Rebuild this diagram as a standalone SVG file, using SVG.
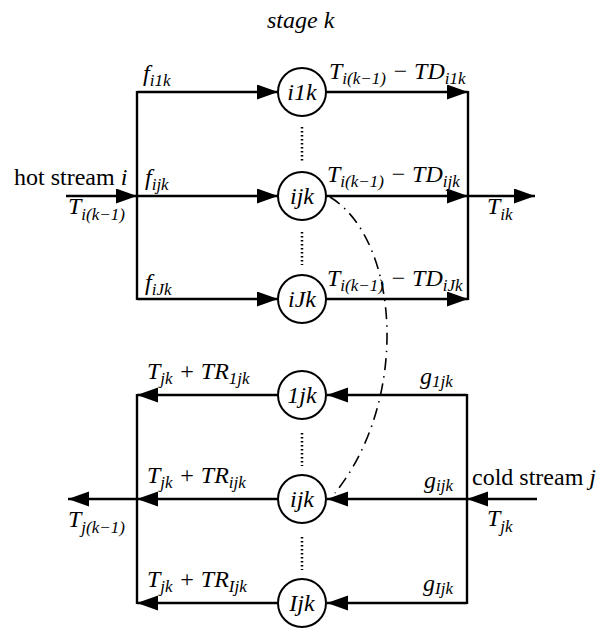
<svg xmlns="http://www.w3.org/2000/svg" width="599" height="630" viewBox="0 0 599 630">
<style>
  .ln{stroke:#000;stroke-width:2.4;fill:none}
  .arr{stroke:#000;stroke-width:2.4;fill:none;marker-end:url(#ah)}
  .node{fill:#fff;stroke:#000;stroke-width:2}
  .dot{stroke:#000;stroke-width:2.5;stroke-dasharray:1.5 2.5;fill:none}
  .dd{stroke:#000;stroke-width:1.6;fill:none;stroke-dasharray:12 6 1.5 6}
  text{font-family:"Liberation Serif","Times New Roman",serif;font-size:24px;fill:#000}
  .it{font-style:italic}
  .nl{font-style:italic;font-size:24px;text-anchor:middle}
  .s{font-size:17px}
</style>
<defs>
  <marker id="ah" markerUnits="userSpaceOnUse" markerWidth="22" markerHeight="16" refX="21" refY="7.5" orient="auto">
    <path d="M0,0 L21,7.5 L0,15 z" fill="#000"/>
  </marker>
</defs>
<rect width="599" height="630" fill="#fff"/>

<text class="it" x="267" y="28">stage k</text>

<g id="connectors">
  <!-- hot side -->
  <line class="arr" x1="66" y1="196" x2="137" y2="196"/>
  <line class="ln" x1="137" y1="91" x2="137" y2="300"/>
  <line class="arr" x1="137" y1="92" x2="278" y2="92"/>
  <line class="arr" x1="137" y1="196" x2="278" y2="196"/>
  <line class="arr" x1="137" y1="299" x2="278" y2="299"/>
  <line class="arr" x1="326" y1="92" x2="468" y2="92"/>
  <line class="arr" x1="326" y1="196" x2="468" y2="196"/>
  <line class="arr" x1="326" y1="299" x2="468" y2="299"/>
  <line class="ln" x1="468" y1="91" x2="468" y2="300"/>
  <line class="arr" x1="468" y1="196" x2="535" y2="196"/>
  <!-- cold side -->
  <line class="arr" x1="537" y1="499" x2="467" y2="499"/>
  <line class="ln" x1="467" y1="394" x2="467" y2="604"/>
  <line class="arr" x1="467" y1="395" x2="327" y2="395"/>
  <line class="arr" x1="467" y1="499" x2="327" y2="499"/>
  <line class="arr" x1="467" y1="603" x2="327" y2="603"/>
  <line class="arr" x1="278" y1="395" x2="137" y2="395"/>
  <line class="arr" x1="278" y1="499" x2="137" y2="499"/>
  <line class="arr" x1="278" y1="603" x2="137" y2="603"/>
  <line class="ln" x1="137" y1="394" x2="137" y2="604"/>
  <line class="arr" x1="137" y1="499" x2="68" y2="499"/>
  <!-- dotted ellipsis lines -->
  <line class="dot" x1="302" y1="127" x2="302" y2="161"/>
  <line class="dot" x1="302" y1="232" x2="302" y2="265"/>
  <line class="dot" x1="302" y1="433" x2="302" y2="466"/>
  <line class="dot" x1="302" y1="537" x2="302" y2="570"/>
  <!-- dash-dot matching curve -->
  <path class="dd" d="M330,197 C400,240 410,400 335,493"/>
</g>

<g id="n-i1k"><circle class="node" cx="302" cy="92" r="24"/><text class="nl" x="302" y="100">i1k</text></g>
<g id="n-ijk-hot"><circle class="node" cx="302" cy="196" r="24"/><text class="nl" x="302" y="204">ijk</text></g>
<g id="n-iJk"><circle class="node" cx="302" cy="299" r="24"/><text class="nl" x="302" y="307">iJk</text></g>
<g id="n-1jk"><circle class="node" cx="302" cy="395" r="24"/><text class="nl" x="302" y="403">1jk</text></g>
<g id="n-ijk-cold"><circle class="node" cx="302" cy="499" r="24"/><text class="nl" x="302" y="507">ijk</text></g>
<g id="n-Ijk"><circle class="node" cx="302" cy="603" r="24"/><text class="nl" x="302" y="611">Ijk</text></g>

<g id="labels">
  <text x="14" y="185">hot stream <tspan class="it">i</tspan></text>
  <text class="it" x="68" y="214">T<tspan class="s" dy="6">i(k−1)</tspan></text>
  <text class="it" x="143" y="81">f<tspan class="s" dy="5">i1k</tspan></text>
  <text class="it" x="145" y="185">f<tspan class="s" dy="5">ijk</tspan></text>
  <text class="it" x="145" y="290">f<tspan class="s" dy="5">iJk</tspan></text>

  <text class="it" x="329" y="79">T<tspan class="s" dy="5">i(k−1)</tspan><tspan dy="-5"> − TD</tspan><tspan class="s" dy="5">i1k</tspan></text>
  <text class="it" x="327" y="182">T<tspan class="s" dy="5">i(k−1)</tspan><tspan dy="-5"> − TD</tspan><tspan class="s" dy="5">ijk</tspan></text>
  <text class="it" x="327" y="286">T<tspan class="s" dy="5">i(k−1)</tspan><tspan dy="-5"> − TD</tspan><tspan class="s" dy="5">iJk</tspan></text>
  <text class="it" x="487" y="214">T<tspan class="s" dy="6">ik</tspan></text>

  <text class="it" x="147" y="379">T<tspan class="s" dy="5">jk</tspan><tspan dy="-5"> + TR</tspan><tspan class="s" dy="5">1jk</tspan></text>
  <text class="it" x="147" y="483">T<tspan class="s" dy="5">jk</tspan><tspan dy="-5"> + TR</tspan><tspan class="s" dy="5">ijk</tspan></text>
  <text class="it" x="147" y="587">T<tspan class="s" dy="5">jk</tspan><tspan dy="-5"> + TR</tspan><tspan class="s" dy="5">Ijk</tspan></text>
  <text class="it" x="68" y="527">T<tspan class="s" dy="6">j(k−1)</tspan></text>

  <text class="it" x="420" y="384">g<tspan class="s" dy="3">1jk</tspan></text>
  <text class="it" x="424" y="488">g<tspan class="s" dy="3">ijk</tspan></text>
  <text class="it" x="423" y="591">g<tspan class="s" dy="3">Ijk</tspan></text>
  <text x="472" y="485">cold stream <tspan class="it">j</tspan></text>
  <text class="it" x="487" y="526">T<tspan class="s" dy="6">jk</tspan></text>
</g>
</svg>
